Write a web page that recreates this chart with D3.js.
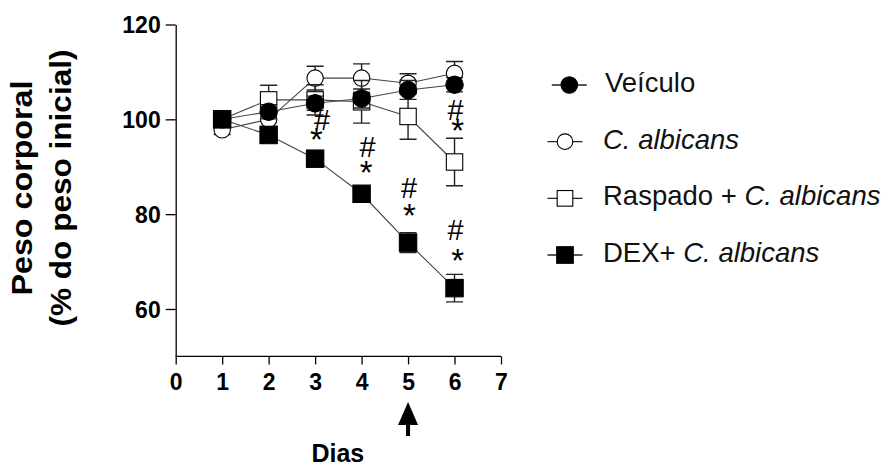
<!DOCTYPE html>
<html>
<head>
<meta charset="utf-8">
<script src="https://cdn.jsdelivr.net/npm/d3@7"></script>
<style>
  body { margin: 0; background: #fff; }
  svg { display: block; font-family: "Liberation Sans", Arial, sans-serif; }
</style>
</head>
<body>
<svg id="chart" width="885" height="472"></svg>
<script>
// dados (média ± erro)
var days = [1, 2, 3, 4, 5, 6];
var veiculo = [100, 101.6, 103.4, 104.4, 106.2, 107.3];
var veiculoErr = [1, 1.5, 1.5, 2, 2, 1.5];
var albicans = [97.8, 100, 108.7, 108.7, 107.6, 109.7];
var albicansErr = [1, 1.5, 2.5, 3, 2, 2.5];
var raspado = [100, 104.1, 104.1, 103.7, 100.6, 91.0];
var raspadoErr = [1, 3.1, 3.2, 4.5, 4.8, 5];
var dex = [100, 96.7, 91.7, 84.3, 74.0, 64.4];
var dexErr = [0.5, 1, 1, 1, 2.1, 2.9];

var xTicks = [0, 1, 2, 3, 4, 5, 6, 7];
var yTicks = [60, 80, 100, 120];

// marcas de significância: dia, nível (% peso), símbolo
var marks = [
  { day: 3.15, level: 99.8, sym: "#" }, { day: 3.03, level: 96.0, sym: "*" },
  { day: 4.13, level: 94.2, sym: "#" }, { day: 4.1, level: 89.1, sym: "*" },
  { day: 5.02, level: 85.5, sym: "#" }, { day: 5.03, level: 80.0, sym: "*" },
  { day: 6.02, level: 102.0, sym: "#" }, { day: 6.07, level: 97.9, sym: "*" },
  { day: 6.02, level: 76.7, sym: "#" }, { day: 6.07, level: 70.6, sym: "*" }
];
var arrowDay = 5;

var series = [
  { name: "C. albicans", vals: albicans, err: albicansErr, shape: "circle", fill: "#fff" },
  { name: "Raspado", vals: raspado, err: raspadoErr, shape: "square", fill: "#fff" },
  { name: "Veículo", vals: veiculo, err: veiculoErr, shape: "circle", fill: "#000" },
  { name: "DEX", vals: dex, err: dexErr, shape: "square", fill: "#000" }
];

var svg = d3.select("#chart");

var x = d3.scaleLinear().domain([0, 7]).range([175.7, 501]);
var y = d3.scaleLinear().domain([50, 120]).range([356.4, 24.5]);

// eixos
var xAxis = svg.append("g")
  .attr("transform", "translate(0," + y(50) + ")")
  .call(d3.axisBottom(x).tickValues(xTicks).tickSize(8).tickPadding(6).tickFormat(d3.format("d")));
var yAxis = svg.append("g")
  .attr("transform", "translate(" + x(0) + ",0)")
  .call(d3.axisLeft(y).tickValues(yTicks).tickSize(10).tickPadding(5).tickSizeOuter(0));

[xAxis, yAxis].forEach(function (a) {
  a.select(".domain").attr("stroke", "#000").attr("stroke-width", 1.3);
  a.selectAll(".tick line").attr("stroke", "#000").attr("stroke-width", 1.3);
  a.selectAll("text")
    .style("font-family", "'Liberation Sans', Arial, sans-serif")
    .style("font-size", "23px")
    .style("font-weight", "bold")
    .attr("fill", "#000");
});
xAxis.select(".domain").attr("d", "M" + x(0) + ",0H" + x(7));
xAxis.selectAll(".tick text").attr("dy", "0.85em");
yAxis.selectAll(".tick text").attr("dy", "0.36em");

// títulos dos eixos
svg.append("text")
  .attr("x", x(0) + (x(7) - x(0)) / 2 - 0.5)
  .attr("y", 462)
  .attr("text-anchor", "middle")
  .style("font-size", "25px")
  .style("font-weight", "bold")
  .text("Dias");

var ylab = svg.append("g").attr("transform", "translate(0,188) rotate(-90)");
ylab.append("text")
  .attr("x", 0).attr("y", 32)
  .attr("text-anchor", "middle")
  .attr("textLength", 215).attr("lengthAdjust", "spacingAndGlyphs")
  .style("font-size", "29px").style("font-weight", "bold")
  .text("Peso corporal");
ylab.append("text")
  .attr("x", 0).attr("y", 71)
  .attr("text-anchor", "middle")
  .attr("textLength", 277).attr("lengthAdjust", "spacingAndGlyphs")
  .style("font-size", "29px").style("font-weight", "bold")
  .text("(% do peso inicial)");

// linhas
var line = d3.line().x(function (d, i) { return x(days[i]); }).y(function (d) { return y(d); });
series.forEach(function (s) {
  svg.append("path")
    .attr("d", line(s.vals))
    .attr("fill", "none")
    .attr("stroke", "#444")
    .attr("stroke-width", 1.1);
});

// barras de erro e marcadores
var cap = 8.5;
series.forEach(function (s) {
  var g = svg.append("g");
  s.vals.forEach(function (v, i) {
    var cx = x(days[i]);
    var top = y(v + s.err[i]), bot = y(v - s.err[i]);
    g.append("path")
      .attr("d", "M" + cx + "," + top + "V" + bot +
        "M" + (cx - cap) + "," + top + "H" + (cx + cap) +
        "M" + (cx - cap) + "," + bot + "H" + (cx + cap))
      .attr("stroke", "#222").attr("stroke-width", 1.4).attr("fill", "none");
  });
  s.vals.forEach(function (v, i) {
    var cx = x(days[i]), cy = y(v);
    if (s.shape === "circle") {
      g.append("circle")
        .attr("cx", cx).attr("cy", cy).attr("r", s.fill === "#000" ? 8.7 : 8.2)
        .attr("fill", s.fill).attr("stroke", "#000").attr("stroke-width", 1.1);
    } else {
      var h = s.fill === "#000" ? 8.7 : 8.2;
      g.append("rect")
        .attr("x", cx - h).attr("y", cy - h).attr("width", 2 * h).attr("height", 2 * h)
        .attr("fill", s.fill).attr("stroke", "#000").attr("stroke-width", 1.1);
    }
  });
});

// símbolos de significância
svg.append("g").selectAll("text")
  .data(marks)
  .enter()
  .append("text")
  .attr("x", function (d) { return x(d.day); })
  .attr("y", function (d) { return y(d.level); })
  .attr("text-anchor", "middle")
  .attr("dy", function (d) { return d.sym === "#" ? "0.34em" : "0.4em"; })
  .style("font-size", function (d) { return d.sym === "#" ? "29px" : "33px"; })
  .text(function (d) { return d.sym; });

// seta no dia 5
var ax = x(arrowDay);
svg.append("path")
  .attr("d", "M" + ax + ",402 L" + (ax + 10) + ",425 H" + (ax + 2) + " V436 H" + (ax - 2) + " V425 H" + (ax - 10) + " Z")
  .attr("fill", "#000");

// legenda
var legend = [
  { label: [["Veículo", false]], shape: "circle", fill: "#000" },
  { label: [["C. albicans", true]], shape: "circle", fill: "#fff" },
  { label: [["Raspado + ", false], ["C. albicans", true]], shape: "square", fill: "#fff" },
  { label: [["DEX+ ", false], ["C. albicans", true]], shape: "square", fill: "#000" }
];
var legY = d3.scalePoint().domain(d3.range(legend.length)).range([85, 255]);
legend.forEach(function (d, i) {
  var ly = legY(i);
  var mx = i === 0 ? 569.3 : 565;
  var g = svg.append("g");
  g.append("path")
    .attr("d", "M" + (mx - 17.5) + "," + ly + "H" + (mx + 17.5))
    .attr("stroke", "#222").attr("stroke-width", 1.3);
  if (d.shape === "circle") {
    g.append("circle").attr("cx", mx).attr("cy", ly).attr("r", d.fill === "#000" ? 8.3 : 7.8)
      .attr("fill", d.fill).attr("stroke", "#000").attr("stroke-width", 1.1);
  } else {
    var h = d.fill === "#000" ? 8.3 : 7.8;
    g.append("rect").attr("x", mx - h).attr("y", ly - h).attr("width", 2 * h).attr("height", 2 * h)
      .attr("fill", d.fill).attr("stroke", "#000").attr("stroke-width", 1.1);
  }
  var t = g.append("text")
    .attr("x", i === 0 ? 605 : 603)
    .attr("y", ly + 7)
    .style("font-size", "27.5px")
    .attr("fill", "#111");
  d.label.forEach(function (p) {
    t.append("tspan").style("font-style", p[1] ? "italic" : "normal").text(p[0]);
  });
});
</script>
</body>
</html>
